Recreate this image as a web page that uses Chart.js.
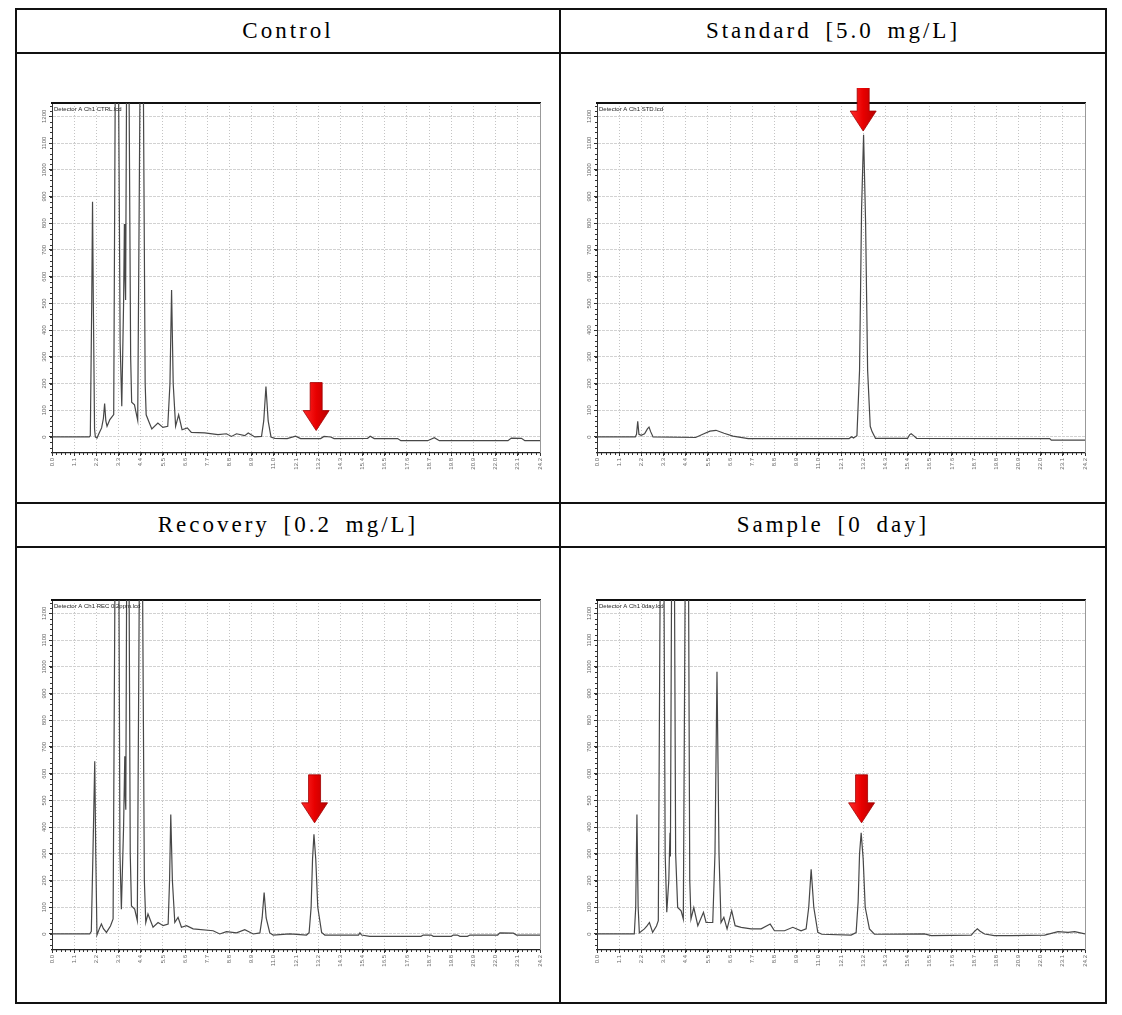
<!doctype html>
<html>

<head>
    <title>Chromatograms</title>
    <script src="https://cdn.jsdelivr.net/npm/chart.js"></script>
    <style>
        body { margin: 0; background: #fff; font-family: "Liberation Serif", serif; }
        .line { position: absolute; background: #111; }
        .head { position: absolute; height: 44px; line-height: 44px; text-align: center;
                font-size: 23px; letter-spacing: 3px; word-spacing: 5px; color: #000; }
        .plot { position: absolute; width: 535px; height: 390px; }
    </style>
</head>

<body>
    <!-- table frame -->
    <div class="line" style="left:15px;top:8px;width:1092px;height:2px"></div>
    <div class="line" style="left:15px;top:52px;width:1092px;height:2px"></div>
    <div class="line" style="left:15px;top:502px;width:1092px;height:2px"></div>
    <div class="line" style="left:15px;top:546px;width:1092px;height:2px"></div>
    <div class="line" style="left:15px;top:1002px;width:1092px;height:2px"></div>
    <div class="line" style="left:15px;top:8px;width:2px;height:996px"></div>
    <div class="line" style="left:559px;top:8px;width:2px;height:996px"></div>
    <div class="line" style="left:1105px;top:8px;width:2px;height:996px"></div>

    <div class="head" style="left:17px;top:9px;width:542px">Control</div>
    <div class="head" style="left:561px;top:9px;width:544px">Standard [5.0 mg/L]</div>
    <div class="head" style="left:17px;top:503px;width:542px">Recovery [0.2 mg/L]</div>
    <div class="head" style="left:561px;top:503px;width:544px">Sample [0 day]</div>

    <div class="plot" style="left:20px;top:88px"><canvas id="control"></canvas></div>
    <div class="plot" style="left:565px;top:88px"><canvas id="standard"></canvas></div>
    <div class="plot" style="left:20px;top:585px"><canvas id="recovery"></canvas></div>
    <div class="plot" style="left:565px;top:585px"><canvas id="sample"></canvas></div>

    <script>
        // tick labels (retention time, min / response)
        const xTickLabels = ['0.0', '1.1', '2.2', '3.3', '4.4', '5.5', '6.6', '7.7', '8.8', '9.9', '11.0', '12.1',
            '13.2', '14.3', '15.4', '16.5', '17.6', '18.7', '19.8', '20.9', '22.0', '23.1', '24.2'];
        const yTickLabels = ['0', '100', '200', '300', '400', '500', '600', '700', '800', '900', '1000', '1100', '1200'];

        // Control
        const controlTime = [0, 1.85, 1.9, 1.97, 2.01, 2.05, 2.11, 2.15, 2.23, 2.34, 2.46, 2.55, 2.61, 2.67, 2.73, 2.87, 3.06,
            3.16, 3.27, 3.38, 3.46, 3.55, 3.59, 3.62, 3.65, 3.72, 3.79, 3.9, 3.95, 4.09, 4.25, 4.4, 4.5, 4.62, 4.67, 4.8,
            4.95, 5.25, 5.5, 5.74, 5.85, 5.93, 6.01, 6.13, 6.28, 6.45, 6.71, 6.91, 7.57, 8.23, 8.65, 8.9, 9.15, 9.56, 9.73,
            10.06, 10.39, 10.5, 10.61, 10.72, 10.86, 11.05, 11.66, 12.08, 12.33, 13.32, 13.49, 13.82, 13.99, 15.65, 15.78,
            15.98, 17.14, 17.3, 18.63, 18.96, 19.21, 22.61, 22.78, 23.28, 23.45, 24.2];
        const controlSignal = [0, 0, 5, 500, 880, 500, 30, 0, -4, 15, 34, 70, 125, 60, 40, 65, 84,
            1700, 1700, 350, 115, 500, 797, 600, 513, 1700, 1700, 300, 130, 120, 62, 1700, 1700, 200, 83, 58,
            30, 52, 36, 40, 200, 550, 200, 40, 83, 27, 34, 17, 15, 9, 12, 2, 12, 5, 15,
            0, 2, 60, 189, 60, 0, -5, -6, 3, -6, -6, 2, 0, -6, -5, 3,
            -6, -6, -14, -14, -3, -14, -14, -4, -5, -14, -14];

        // Standard [5.0 mg/L]
        const standardTime = [0, 1.9, 1.96, 2.02, 2.08, 2.19, 2.36, 2.5, 2.58, 2.66, 2.78, 4.89, 5.3, 5.6, 5.9, 6.3, 6.74,
            7.5, 12.5, 12.63, 12.72, 12.89, 13.02, 13.12, 13.22, 13.32, 13.42, 13.55, 13.64, 13.81, 15.4, 15.5, 15.58,
            15.7, 15.85, 22.45, 22.53, 24.2];
        const standardSignal = [0, 0, 10, 59, 10, 6, 12, 30, 37, 20, 0, -2, 12, 22, 25, 14, 3,
            -6, -6, 1, -4, 5, 250, 850, 1131, 800, 250, 40, 20, -5, -5, 8, 12,
            5, -5, -6, -12, -12];

        // Recovery [0.2 mg/L]
        const recoveryTime = [0, 1.87, 1.95, 2.03, 2.12, 2.17, 2.23, 2.35, 2.45, 2.55, 2.7, 2.9, 3.03, 3.15, 3.3, 3.37, 3.44,
            3.55, 3.61, 3.64, 3.66, 3.72, 3.8, 3.88, 3.94, 4.1, 4.23, 4.36, 4.46, 4.58, 4.65, 4.76, 5.01, 5.26, 5.51, 5.76,
            5.83, 5.89, 5.97, 6.09, 6.25, 6.42, 6.67, 7.0, 7.99, 8.32, 8.65, 9.15, 9.56, 9.98, 10.31, 10.42, 10.52, 10.62,
            10.8, 10.97, 11.79, 12.62, 12.75, 12.85, 12.92, 12.99, 13.08, 13.18, 13.37, 13.53, 15.2, 15.27, 15.35, 15.76,
            18.3, 18.41, 18.8, 18.91, 19.8, 19.9, 20.1, 20.23, 20.6, 20.73, 22.1, 22.21, 22.88, 23.04, 24.2];
        const recoverySignal = [0, 0, 10, 300, 646, 300, -4, 20, 37, 20, 6, 30, 56, 1700, 1700, 300, 93,
            400, 665, 500, 465, 1700, 1700, 300, 105, 93, 50, 1700, 1700, 200, 43, 75, 25, 43, 31, 37,
            200, 447, 200, 43, 62, 25, 31, 19, 12, 0, 9, 4, 16, 0, 4, 60, 155, 60,
            4, -4, 0, -4, 5, 100, 280, 373, 280, 100, 6, -4, -4, 4, -4, -9,
            -9, -4, -4, -9, -9, -4, -4, -9, -9, -4, -4, 4, 3, -4, -4];

        // Sample [0 day]
        const sampleTime = [0, 1.85, 1.92, 1.98, 2.04, 2.1, 2.35, 2.48, 2.6, 2.76, 2.95, 3.04, 3.16, 3.3, 3.38, 3.46, 3.56,
            3.62, 3.64, 3.66, 3.72, 3.82, 3.9, 4.0, 4.17, 4.28, 4.4, 4.52, 4.6, 4.66, 4.8, 5.0, 5.28, 5.41, 5.74, 5.85,
            5.95, 6.05, 6.15, 6.29, 6.45, 6.68, 6.85, 7.15, 7.64, 8.14, 8.59, 8.8, 9.3, 9.71, 10.12, 10.37, 10.5, 10.62,
            10.75, 10.95, 11.15, 12.6, 12.85, 12.95, 13.02, 13.1, 13.2, 13.3, 13.51, 13.76, 16.24, 16.57, 18.56, 18.7,
            18.86, 19.0, 19.22, 19.71, 20.54, 22.2, 22.86, 23.36, 23.69, 24.2];
        const sampleSignal = [0, 0, 100, 447, 100, 4, 19, 30, 43, 6, 30, 50, 1700, 1700, 300, 81, 200,
            379, 290, 290, 1700, 1700, 300, 99, 87, 56, 1700, 1700, 200, 56, 99, 31, 81, 43, 43, 300,
            981, 300, 43, 62, 19, 87, 31, 25, 19, 19, 37, 12, 12, 25, 12, 19, 100, 242,
            100, 6, -1, -4, 5, 120, 300, 379, 280, 100, 19, -1, 0, -6, -4, 8,
            19, 10, 0, -6, -6, -4, 9, 6, 9, 0];

        // red arrows marking the analyte peak (time, tip response)
        const arrowTime = [13.1, 13.2, 13.02, 13.12];
        const arrowTip = [24, 1145, 416, 416];

        const traceInfo = ['Detector A Ch1 CTRL.lcd', 'Detector A Ch1 STD.lcd',
            'Detector A Ch1 REC 0.2ppm.lcd', 'Detector A Ch1 0day.lcd'];

        Chart.defaults.font.family = '"Liberation Sans", sans-serif';

        const chromaExtras = {
            id: 'chromaExtras',
            afterDraw(chart, args, opts) {
                const ctx = chart.ctx;
                const a = chart.chartArea;
                const x = chart.scales.x, y = chart.scales.y;
                ctx.save();

                // minor ticks
                ctx.strokeStyle = '#333';
                ctx.lineWidth = 1;
                ctx.beginPath();
                for (let v = 0; v <= x.max + 1e-6; v += 0.22) {
                    const px = Math.round(x.getPixelForValue(v)) + 0.5;
                    ctx.moveTo(px, a.bottom);
                    ctx.lineTo(px, a.bottom + 2);
                }
                for (let v = -40; v < y.max; v += 20) {
                    const py = Math.round(y.getPixelForValue(v)) + 0.5;
                    ctx.moveTo(a.left - 2, py);
                    ctx.lineTo(a.left, py);
                }
                ctx.stroke();

                // y labels, vertical
                ctx.fillStyle = '#666';
                ctx.font = '6px "Liberation Sans"';
                ctx.textAlign = 'center';
                ctx.textBaseline = 'middle';
                yTickLabels.forEach(l => {
                    const py = y.getPixelForValue(parseFloat(l));
                    ctx.save();
                    ctx.translate(a.left - 8, py);
                    ctx.rotate(-Math.PI / 2);
                    ctx.fillText(l, 0, 0);
                    ctx.restore();
                });

                // trace info
                ctx.fillStyle = '#222';
                ctx.textAlign = 'left';
                ctx.textBaseline = 'top';
                ctx.fillText(opts.info, a.left + 2, a.top + 3);

                // arrow
                const ax = x.getPixelForValue(opts.arrowX);
                const ay = y.getPixelForValue(opts.arrowY);
                const grad = ctx.createLinearGradient(ax - 13, 0, ax + 13, 0);
                grad.addColorStop(0, '#ff2a2a');
                grad.addColorStop(0.5, '#e80000');
                grad.addColorStop(1, '#b80000');
                ctx.fillStyle = grad;
                ctx.strokeStyle = '#a00000';
                ctx.lineWidth = 0.8;
                ctx.beginPath();
                ctx.moveTo(ax - 6, ay - 48);
                ctx.lineTo(ax + 6, ay - 48);
                ctx.lineTo(ax + 6, ay - 20);
                ctx.lineTo(ax + 13, ay - 20);
                ctx.lineTo(ax, ay);
                ctx.lineTo(ax - 13, ay - 20);
                ctx.lineTo(ax - 6, ay - 20);
                ctx.closePath();
                ctx.fill();
                ctx.stroke();
                ctx.restore();
            }
        };

        function drawChromatogram(id, time, signal, idx) {
            const points = time.map((t, i) => ({ x: t, y: signal[i] }));
            return new Chart(document.getElementById(id).getContext('2d'), {
                type: 'line',
                data: {
                    datasets: [{
                        data: points,
                        borderColor: '#474747',
                        borderWidth: 1.2,
                        pointRadius: 0,
                        tension: 0,
                        fill: false
                    }]
                },
                options: {
                    responsive: true,
                    maintainAspectRatio: false,
                    animation: false,
                    layout: { padding: { top: 15, right: 15, left: 0, bottom: 0 } },
                    plugins: {
                        legend: { display: false },
                        tooltip: { enabled: false },
                        chromaExtras: { arrowX: arrowTime[idx], arrowY: arrowTip[idx], info: traceInfo[idx] }
                    },
                    scales: {
                        x: {
                            type: 'linear',
                            min: 0,
                            max: 24.2,
                            afterBuildTicks: s => { s.ticks = xTickLabels.map(l => ({ value: parseFloat(l) })); },
                            afterFit: s => { s.height = 25; },
                            ticks: {
                                autoSkip: false,
                                minRotation: 90,
                                maxRotation: 90,
                                padding: 2,
                                color: '#666',
                                font: { size: 6 },
                                callback: (v, i) => xTickLabels[i]
                            },
                            grid: { color: '#c4c4c4', tickColor: '#333', tickLength: 3 },
                            border: { color: '#222', width: 1.2, dash: [1, 2] }
                        },
                        y: {
                            type: 'linear',
                            min: -60,
                            max: 1250,
                            afterBuildTicks: s => { s.ticks = yTickLabels.map(l => ({ value: parseFloat(l) })); },
                            afterFit: s => { s.width = 32; },
                            ticks: { display: false },
                            grid: { color: '#d2d2d2', tickColor: '#333', tickLength: 3 },
                            border: { color: '#333', width: 1, dash: [3, 1] }
                        },
                        x2: {
                            type: 'linear',
                            position: 'top',
                            min: 0,
                            max: 24.2,
                            afterFit: s => { s.height = 0; },
                            ticks: { display: false },
                            grid: { display: false, drawTicks: false },
                            border: { color: '#111', width: 2 }
                        },
                        y2: {
                            type: 'linear',
                            position: 'right',
                            min: -60,
                            max: 1250,
                            afterFit: s => { s.width = 0; },
                            ticks: { display: false },
                            grid: { display: false, drawTicks: false },
                            border: { color: '#999', width: 1 }
                        }
                    }
                },
                plugins: [chromaExtras]
            });
        }

        drawChromatogram('control', controlTime, controlSignal, 0);
        drawChromatogram('standard', standardTime, standardSignal, 1);
        drawChromatogram('recovery', recoveryTime, recoverySignal, 2);
        drawChromatogram('sample', sampleTime, sampleSignal, 3);
    </script>
</body>

</html>
